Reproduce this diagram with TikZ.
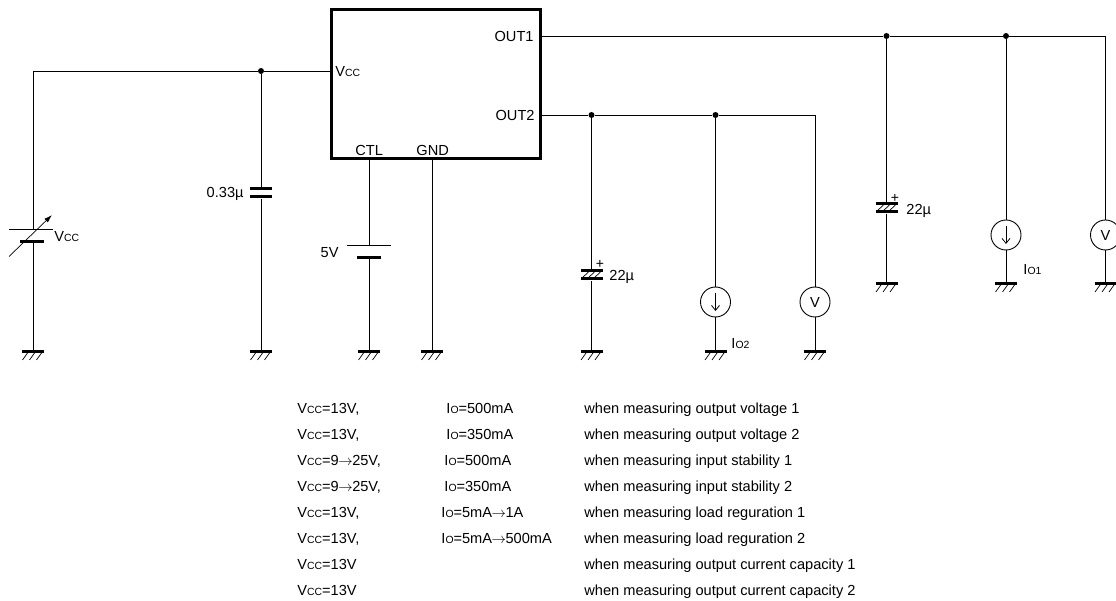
\documentclass[tikz,border=0pt]{standalone}
\usepackage{fontspec}
\setmainfont{Liberation Sans}
\usetikzlibrary{arrows.meta}
\newcommand{\low}[1]{{\fontsize{10.4}{12}\selectfont #1}}
\newcommand{\Vcc}{V\low{CC}}
\newcommand{\toarrow}{\kern-0.5pt$\rightarrow$\kern-0.5pt}
\tikzset{
	pics/ground/.style={code={
		\draw[line width=3pt] (-11,0)--(11,0);
		\foreach \x in {-7,0,7} \draw[line width=0.7pt] (\x-3.5,8)--(\x+1.5,1);
	}},
	pics/hatch/.style={code={
		\foreach \x in {-6,0,6} \draw[line width=0.7pt] (\x-3.5,3)--(\x+3,-3);
	}}
}
\begin{document}
\begin{tikzpicture}[x=1pt,y=-1pt,line width=0.9pt,font=\fontsize{14.6}{16}\selectfont]
	\tikzstyle{plate} = [rectangle,fill=black,inner sep=0pt,minimum height=3pt,minimum width=22pt]
	\tikzstyle{shortplate} = [plate,minimum width=24pt]
	\tikzstyle{longplate} = [rectangle,fill=black,inner sep=0pt,minimum height=0.9pt,minimum width=44pt]
	\tikzstyle{meter} = [circle,draw,inner sep=0pt,minimum size=30pt]
	\tikzstyle{dot} = [circle,fill=black,inner sep=0pt,minimum size=6pt]
	\tikzstyle{txt} = [inner sep=0pt,anchor=west]
	\tikzstyle{row} = [inner sep=0pt,anchor=base west]
	\useasboundingbox (0,0) rectangle (1116,601);
	% chip
	\node[rectangle,draw,line width=3pt,minimum width=209pt,minimum height=149pt,inner sep=0pt](chip)at (435.5,84.5){};
	\node[txt](l-vcc)at (335,72){\Vcc};
	\node[txt,anchor=east](l-out1)at (534,36){OUT1};
	\node[txt,anchor=east](l-out2)at (535,115){OUT2};
	\node[txt](l-ctl)at (355,150){CTL};
	\node[txt](l-gnd)at (416,150){GND};
	\coordinate(p-vcc)at (330,71);
	\coordinate(p-out1)at (541,36);
	\coordinate(p-out2)at (541,115);
	\coordinate(p-ctl)at (369,160);
	\coordinate(p-gnd)at (432,160);
	% junctions and corners
	\coordinate(c-vcc)at (33,71);
	\node[dot](d-vcc)at (261,71){};
	\node[dot](d-o2a)at (591.5,115){};
	\node[dot](d-o2b)at (715.5,115){};
	\coordinate(c-o2)at (815,115);
	\node[dot](d-o1a)at (886.5,36){};
	\node[dot](d-o1b)at (1006,36){};
	\coordinate(c-o1)at (1105.5,36);
	% grounds
	\coordinate(g-vcc)at (33,352);
	\coordinate(g-cin)at (261,352);
	\coordinate(g-ctl)at (369,352);
	\coordinate(g-gnd)at (432,352);
	\coordinate(g-c2)at (591.5,352);
	\coordinate(g-i2)at (715.5,352);
	\coordinate(g-v2)at (815,352);
	\coordinate(g-c1)at (886.5,284);
	\coordinate(g-i1)at (1006,284);
	\coordinate(g-v1)at (1105.5,284);
	\foreach \g in {g-vcc,g-cin,g-ctl,g-gnd,g-c2,g-i2,g-v2,g-c1,g-i1,g-v1}
		\pic at (\g) {ground};
	% supply and capacitors
	\node[longplate](b-top)at (31,229){};
	\node[shortplate](b-bot)at (32,242){};
	\coordinate(a-from)at (9,256.5);
	\coordinate(a-to)at (52,215);
	\draw[line width=0.7pt,-{Latex[length=8pt,width=5pt]}] (a-from) -- (a-to);
	\node[plate](cin-top)at (261,189){};
	\node[plate](cin-bot)at (261,197){};
	\node[longplate](ctl-top)at (368.5,245){};
	\node[shortplate](ctl-bot)at (369,258){};
	\node[plate](c2-top)at (591.5,271){};
	\node[plate](c2-bot)at (591.5,279){};
	\node[plate](c1-top)at (886.5,204){};
	\node[plate](c1-bot)at (886.5,212){};
	\pic at (591.5,275) {hatch};
	\pic at (886.5,208) {hatch};
	% sources and meters
	\node[meter](i2)at (715.5,302){};
	\node[meter](v2)at (815,302){V};
	\node[meter](i1)at (1006,235){};
	\node[meter](v1)at (1105.5,235){V};
	\draw[-{Straight Barb[length=5pt,width=8pt]},line width=0.8pt] ([yshift=9pt]i2.center) -- ([yshift=-9pt]i2.center);
	\draw[-{Straight Barb[length=5pt,width=8pt]},line width=0.8pt] ([yshift=9pt]i1.center) -- ([yshift=-9pt]i1.center);
	% wires
	\draw (p-vcc) -- (d-vcc) -- (c-vcc) -- (c-vcc |- b-top);
	\draw (c-vcc |- b-bot) -- (g-vcc);
	\draw (d-vcc) -- (cin-top);
	\draw (cin-bot) -- (g-cin);
	\draw (p-ctl) -- (p-ctl |- ctl-top);
	\draw (p-ctl |- ctl-bot) -- (g-ctl);
	\draw (p-gnd) -- (g-gnd);
	\draw (p-out2) -- (d-o2a) -- (d-o2b) -- (c-o2) -- (v2);
	\draw (v2) -- (g-v2);
	\draw (d-o2a) -- (c2-top);
	\draw (c2-bot) -- (g-c2);
	\draw (d-o2b) -- (i2);
	\draw (i2) -- (g-i2);
	\draw (p-out1) -- (d-o1a) -- (d-o1b) -- (c-o1) -- (v1);
	\draw (v1) -- (g-v1);
	\draw (d-o1a) -- (c1-top);
	\draw (c1-bot) -- (g-c1);
	\draw (d-o1b) -- (i1);
	\draw (i1) -- (g-i1);
	% labels
	\node[txt](l-b)at (54,237){\Vcc};
	\node[txt,anchor=east](l-cin)at (244,194){0.33µ};
	\node[txt,anchor=east](l-5v)at (339,253){5V};
	\node[txt](l-c2)at (609,277){22µ};
	\node[txt](l-c1)at (906,211){22µ};
	\node[inner sep=0pt,font=\fontsize{14}{14}\selectfont](l-c2p)at (600,264){+};
	\node[inner sep=0pt,font=\fontsize{14}{14}\selectfont](l-c1p)at (895,198){+};
	\node[txt](l-i2)at (731,344){I\low{O2}};
	\node[txt](l-i1)at (1023,270){I\low{O1}};
	% conditions
	\foreach \n/\y/\xb/\a/\b/\c in {
		1/413/446/{\Vcc=13V,}/{I\low{O}=500mA}/{when measuring output voltage 1},
		2/439/446/{\Vcc=13V,}/{I\low{O}=350mA}/{when measuring output voltage 2},
		3/465.5/444/{\Vcc=9\toarrow 25V,}/{I\low{O}=500mA}/{when measuring input stability 1},
		4/491.5/444/{\Vcc=9\toarrow 25V,}/{I\low{O}=350mA}/{when measuring input stability 2},
		5/517.5/441/{\Vcc=13V,}/{I\low{O}=5mA\toarrow 1A}/{when measuring load reguration 1},
		6/543/441/{\Vcc=13V,}/{I\low{O}=5mA\toarrow 500mA}/{when measuring load reguration 2},
		7/569/441/{\Vcc=13V}/{}/{when measuring output current capacity 1},
		8/595/441/{\Vcc=13V}/{}/{when measuring output current capacity 2}}{
		\node[row](a\n)at (297,\y){\a};
		\node[row](b\n)at (\xb,\y){\b};
		\node[row](c\n)at (584,\y){\c};
	}
\end{tikzpicture}
\end{document}
